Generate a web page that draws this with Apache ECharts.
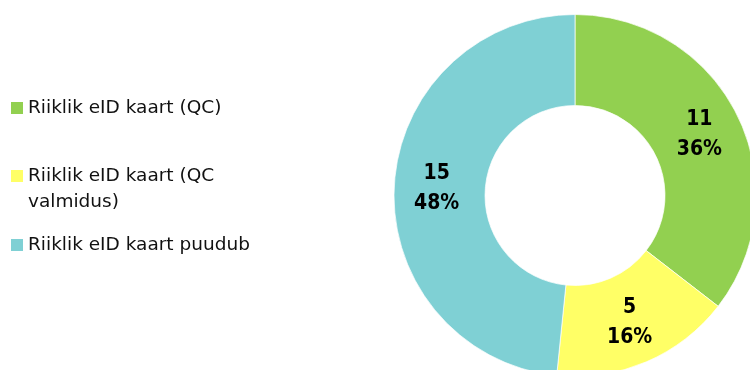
<!DOCTYPE html>
<html><head><meta charset="utf-8">
<script src="https://cdn.jsdelivr.net/npm/echarts@6/dist/echarts.min.js"></script>
<style>html,body{margin:0;padding:0;background:#fff}#c{width:750px;height:370px}</style>
</head><body><div id="c"></div>
<script>
const categories = ['Riiklik eID kaart (QC)', 'Riiklik eID kaart (QC valmidus)', 'Riiklik eID kaart puudub'];
const values = [11, 5, 15];
const percentLabels = ['36%', '16%', '48%'];
const colors = ['#92D050', '#FFFF66', '#7FD0D4'];
const legendLabels = ['Riiklik eID kaart (QC)', ' \nRiiklik eID kaart (QC\nvalmidus)', 'Riiklik eID kaart puudub'];

const chart = echarts.init(document.getElementById('c'), null, {renderer: 'canvas'});
const legendTops = [94, 136, 231];
const legends = categories.map((c, i) => ({
  orient: 'vertical', left: 11, top: legendTops[i] + 1, itemWidth: 12, itemHeight: 12, itemGap: 0, padding: 0,
  selectedMode: false, data: [c], icon: 'rect',
  itemStyle: {borderWidth: 0},
  formatter: () => legendLabels[i],
  textStyle: {fontFamily: 'DejaVu Sans', fontSize: 18.5, color: '#111', lineHeight: 26}
}));
chart.setOption({
  animation: false,
  legend: legends,
  series: [{
    type: 'pie', center: [575, 195.5], radius: [90, 181], startAngle: 90, clockwise: true,
    data: categories.map((c, i) => ({name: c, value: values[i], itemStyle: {color: colors[i]}})),
    itemStyle: {borderColor: '#fff', borderWidth: 0.7},
    label: {position: 'inside', formatter: p => p.value + '\n' + percentLabels[p.dataIndex],
      fontFamily: 'DejaVu Sans Condensed', fontWeight: 'bold', fontSize: 21, color: '#000', lineHeight: 30},
    labelLine: {show: false}
  }]
});
</script></body></html>
